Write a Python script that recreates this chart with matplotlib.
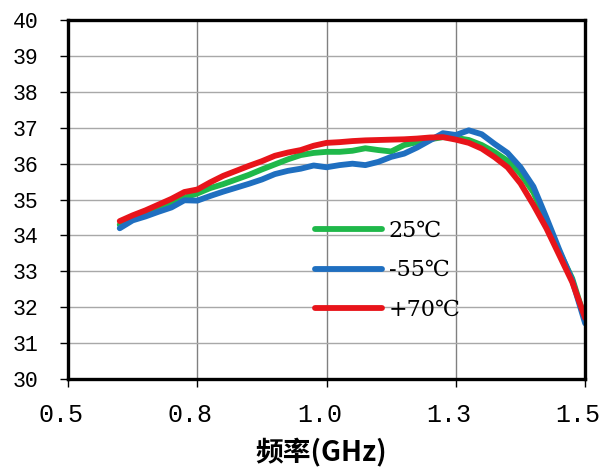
import numpy as np
import matplotlib
matplotlib.use("Agg")
import matplotlib.pyplot as plt
import matplotlib.transforms as mtransforms

# frekvencija (GHz) i pojacanje za tri temperature
freq = [0.600, 0.625, 0.650, 0.675, 0.700, 0.725, 0.750, 0.775, 0.800, 0.825,
        0.850, 0.875, 0.900, 0.925, 0.950, 0.975, 1.000, 1.025, 1.050, 1.075,
        1.100, 1.125, 1.150, 1.175, 1.200, 1.225, 1.250, 1.275, 1.300, 1.325,
        1.350, 1.375, 1.400, 1.425, 1.450, 1.475, 1.500]

g25 = [34.30, 34.45, 34.58, 34.73, 34.90, 35.05, 35.17, 35.32, 35.43, 35.56,
       35.69, 35.84, 35.98, 36.12, 36.24, 36.30, 36.33, 36.33, 36.36, 36.43,
       36.38, 36.34, 36.52, 36.60, 36.68, 36.74, 36.72, 36.66, 36.52, 36.32,
       36.08, 35.72, 35.20, 34.40, 33.55, 32.80, 31.65]

gm55 = [34.20, 34.42, 34.53, 34.66, 34.78, 34.98, 34.97, 35.10, 35.22, 35.33,
        35.44, 35.56, 35.71, 35.80, 35.86, 35.95, 35.90, 35.96, 36.00, 35.96,
        36.05, 36.19, 36.28, 36.45, 36.65, 36.85, 36.80, 36.93, 36.82, 36.55,
        36.30, 35.90, 35.36, 34.50, 33.60, 32.75, 31.55]

gp70 = [34.40, 34.56, 34.70, 34.86, 35.02, 35.21, 35.28, 35.48, 35.66, 35.80,
        35.94, 36.07, 36.22, 36.31, 36.38, 36.50, 36.58, 36.60, 36.63, 36.65,
        36.66, 36.67, 36.68, 36.70, 36.73, 36.74, 36.67, 36.58, 36.42, 36.18,
        35.90, 35.45, 34.85, 34.20, 33.45, 32.70, 31.70]

xticks = [0.5, 0.75, 1.0, 1.25, 1.5]
xlabels = ["0.5", "0.8", "1.0", "1.3", "1.5"]
yticks = list(range(30, 41))
labels = ["25℃", "-55℃", "+70℃"]

zelena = "#1fb84a"
plava = "#1f6fc0"
crvena = "#e8141a"

fig = plt.figure(figsize=(6.02, 4.69), dpi=100)
ax = fig.add_axes([0.113, 0.192, 0.859, 0.765])

# oznake na x osi pomaknute ~7 px ulijevo (kao u originalu)
_orig_tr = ax.get_xaxis_text1_transform
def pomaknuto(pad):
    tr, va, ha = _orig_tr(pad)
    return tr + mtransforms.ScaledTranslation(-0.07, 0, fig.dpi_scale_trans), va, ha
ax.get_xaxis_text1_transform = pomaknuto

l1, = ax.plot(freq, g25, color=zelena, lw=4.2, solid_capstyle="round")
l2, = ax.plot(freq, gm55, color=plava, lw=4.2, solid_capstyle="round")
l3, = ax.plot(freq, gp70, color=crvena, lw=4.2, solid_capstyle="round")

ax.set_xlim(0.5, 1.5)
ax.set_ylim(30, 40)
ax.set_xticks(xticks)
ax.set_xticklabels(xlabels, family="Liberation Mono", fontsize=18)
ax.set_yticks(yticks)
ax.set_yticklabels([str(v) for v in yticks], family="Liberation Mono", fontsize=15.5)

ax.grid(True, color="#a8a8a8", lw=1)
ax.xaxis.grid(True, color="#808080", lw=1)
ax.set_axisbelow(True)

for s in ax.spines.values():
    s.set_linewidth(2.4)
    s.set_color("black")
ax.tick_params(axis="both", direction="out", length=6, width=1, color="black")
ax.tick_params(axis="y", pad=15)
ax.tick_params(axis="x", pad=11)

ax.set_xlabel("频率(GHz)", family=["Noto Sans CJK SC", "DejaVu Sans"],
              fontsize=20, fontweight="bold", va="center")
ax.xaxis.set_label_coords(0.49, -0.206)

leg = ax.legend([l1, l2, l3], labels, loc="upper left",
                bbox_to_anchor=(0.478, 0.443), frameon=False,
                borderpad=0, borderaxespad=0, handlelength=3.0,
                handletextpad=0.3, labelspacing=0.78,
                prop={"family": ["DejaVu Serif", "Noto Sans CJK SC"], "size": 16})

fig.savefig("out.png", dpi=100)
